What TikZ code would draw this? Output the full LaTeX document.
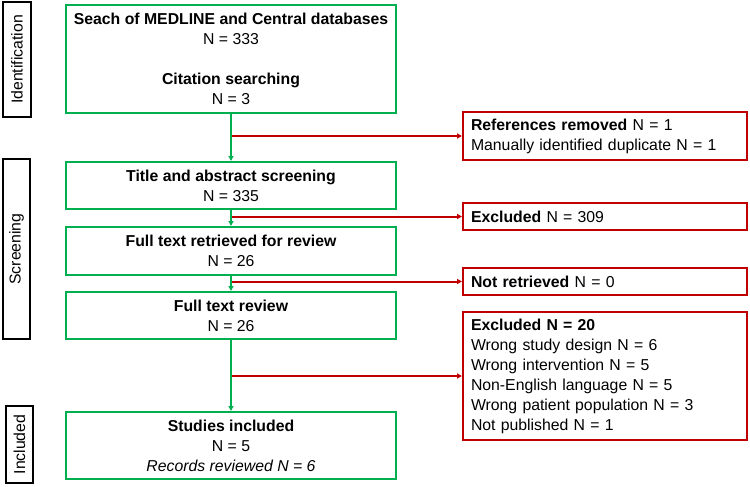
\documentclass[tikz,border=0pt]{standalone}
\usepackage{fontspec}
\setmainfont{Liberation Sans}
\usetikzlibrary{arrows.meta}
\definecolor{pgreen}{RGB}{0,176,80}
\definecolor{pred}{RGB}{192,0,0}
\tikzset{
  txt/.style={font=\fontsize{15.8}{20}\selectfont},
  gbox/.style={txt, draw=pgreen, line width=2pt, minimum width=330pt, align=center, inner sep=0pt},
  rbox/.style={txt, draw=pred, line width=2pt, text width=268pt, inner xsep=8pt, inner ysep=0pt, align=left},
  lbox/.style={txt, draw=black, line width=2.5pt, rotate=90, inner sep=0pt, align=center},
  garrow/.style={draw=pgreen, line width=1.8pt, -{Triangle[width=5pt,length=5pt]}},
  rarrow/.style={draw=pred, line width=2pt, -{Triangle[width=5pt,length=5pt]}},
}
\begin{document}
\begin{tikzpicture}[x=1pt,y=-1pt]
\useasboundingbox (0,0) rectangle (750,487);
% left stage labels
\node[lbox, minimum width=115pt, minimum height=28pt] (l1) at (17,59.5) {Identification};
\node[lbox, minimum width=180pt, minimum height=27pt] (l2) at (16.5,249) {Screening};
\node[lbox, minimum width=77pt, minimum height=27pt] (l3) at (19.5,444.5) {Included};
% green boxes
\node[gbox, minimum height=108pt] (g1) at (231,59) {\textbf{Seach of MEDLINE and Central databases}\\N = 333\\[20pt]\textbf{Citation searching}\\N = 3};
\node[gbox, minimum height=47pt] (g2) at (231,185.5) {\textbf{Title and abstract screening}\\N = 335};
\node[gbox, minimum height=48pt] (g3) at (231,251) {\textbf{Full text retrieved for review}\\N = 26};
\node[gbox, minimum height=47pt] (g4) at (231,315.5) {\textbf{Full text review}\\N = 26};
\node[gbox, minimum height=67pt] (g5) at (231,445.5) {\textbf{Studies included}\\N = 5\\\textit{Records reviewed N = 6}};
% red boxes
\node[rbox, minimum height=48pt] (r1) at (605,136) {\textbf{References removed} N = 1\\Manually identified duplicate N = 1};
\node[rbox, minimum height=27pt] (r2) at (605,216.5) {\textbf{Excluded} N = 309};
\node[rbox, minimum height=27pt] (r3) at (605,281.5) {\textbf{Not retrieved} N = 0};
\node[rbox, minimum height=128pt] (r4) at (605,376) {\textbf{Excluded N = 20}\\Wrong study design N = 6\\Wrong intervention N = 5\\Non-English language N = 5\\Wrong patient population N = 3\\Not published N = 1};
% red arrows
\coordinate (c1) at (g1.south |- r1.west);
\coordinate (c2) at (g1.south |- r2.west);
\coordinate (c3) at (g1.south |- r3.west);
\coordinate (c4) at (g1.south |- r4.west);
\draw[rarrow] (c1) -- (r1.west);
\draw[rarrow] (c2) -- (r2.west);
\draw[rarrow] (c3) -- (r3.west);
\draw[rarrow] (c4) -- (r4.west);
% green arrows
\draw[garrow] (g1.south) -- (g2.north);
\draw[garrow] (g2.south) -- (g3.north);
\draw[garrow] (g3.south) -- (g4.north);
\draw[garrow] (g4.south) -- (g5.north);
\end{tikzpicture}
\end{document}
